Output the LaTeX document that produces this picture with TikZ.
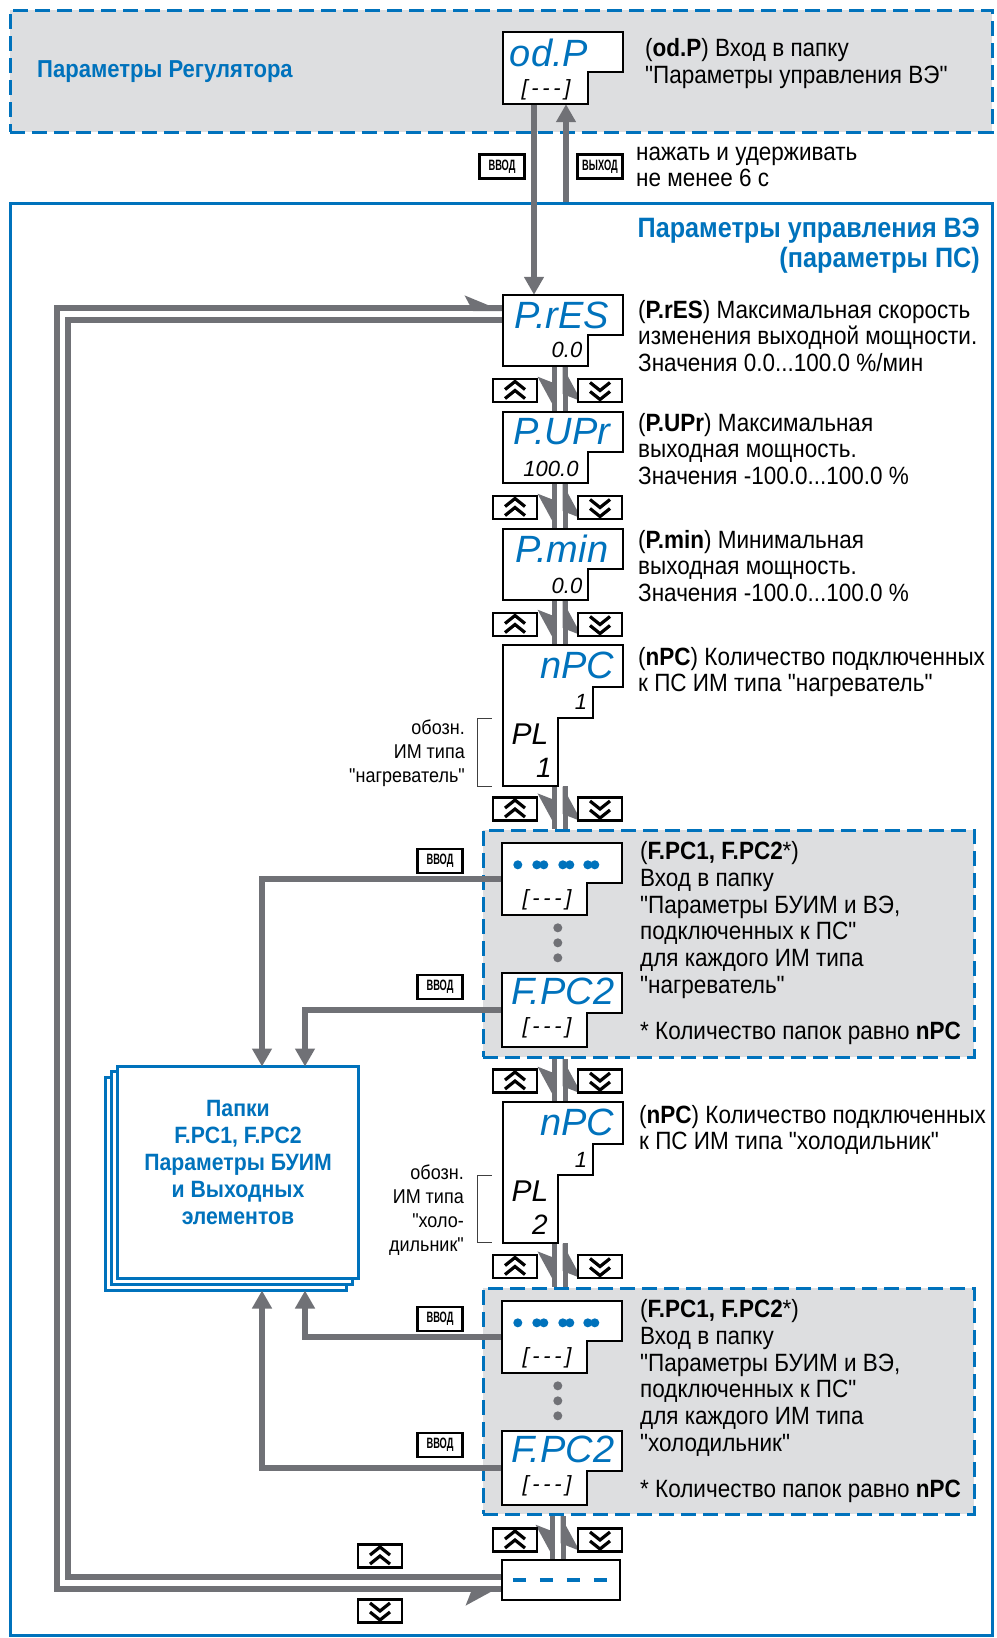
\documentclass[tikz,border=0pt]{standalone}
\usepackage{fontspec}
\setmainfont{Liberation Sans}[FakeStretch=0.9, Ligatures=TeXOff]
\newfontfamily\segfont{Liberation Sans}
\newfontfamily\keyfont{Liberation Sans}[FakeStretch=0.62]
\usetikzlibrary{arrows.meta,positioning,calc}
\definecolor{ovblue}{RGB}{0,114,188}
\definecolor{conngray}{RGB}{112,113,118}
\definecolor{panelgray}{RGB}{221,222,224}

\tikzset{
  txt/.style={font=\fontsize{25}{26.7}\selectfont, align=left, anchor=west, inner sep=0pt},
  ttl/.style={text=ovblue, font=\bfseries\fontsize{24.5}{30}\selectfont, inner sep=0pt},
  lbl/.style={font=\fontsize{20}{24}\selectfont, align=right, anchor=east, inner sep=0pt},
  disp/.style={minimum width=120pt, minimum height=71pt, inner sep=0pt},
  displine/.style={draw=black, line width=2.5pt, fill=white},
  segtxt/.style={text=ovblue, font=\segfont\itshape\fontsize{38}{38}\selectfont, inner sep=0pt},
  subtxt/.style={font=\segfont\itshape\fontsize{22}{22}\selectfont, inner sep=0pt},
  keybox/.style={draw, line width=2.2pt, fill=white, minimum width=44pt, minimum height=23pt, inner sep=0pt},
  upkey/.style={keybox, path picture={
    \draw[line width=3.2pt] (path picture bounding box.center) ++(-10,-1) -- ++(10,-8) -- ++(10,8)
      (path picture bounding box.center) ++(-10,8) -- ++(10,-8) -- ++(10,8);}},
  dnkey/.style={keybox, path picture={
    \draw[line width=3.2pt] (path picture bounding box.center) ++(-10,-8) -- ++(10,8) -- ++(10,-8)
      (path picture bounding box.center) ++(-10,1) -- ++(10,8) -- ++(10,-8);}},
  entkey/.style={keybox, minimum width=45pt, minimum height=24pt, font=\keyfont\bfseries\fontsize{15}{15}\selectfont},
  panel/.style={draw=ovblue, fill=panelgray, line width=3pt, dash pattern=on 15pt off 7pt},
  fold/.style={draw=ovblue, fill=white, line width=3pt},
  gline/.style={draw=conngray, line width=6pt},
  harpR/.tip={Stealth[right, length=30pt, width=32pt, inset=6pt]},
  harpL/.tip={Stealth[left, length=30pt, width=24pt, inset=6pt]},
  pdn/.style={draw=conngray, line width=5pt, postaction={draw=conngray, -{harpR}}},
  tri/.tip={Triangle[length=18pt, width=19pt]}
}

% display frame with a notch at the lower right
\newcommand{\dispbox}[1]{\draw[displine] (#1.north west) -- (#1.north east) -- ++(0,40) -| ([xshift=85pt]#1.south west) -- (#1.south west) -- cycle;}
% display frame of the nPC screens (two steps)
\newcommand{\npcbox}[1]{\draw[displine] (#1.north west) -- (#1.north east) -- ++(0,42) -- ++(-30,0) -- ++(0,31) -- ++(-35,0) |- (#1.south west) -- cycle;}

\begin{document}
\begin{tikzpicture}[x=1pt, y=-1pt]
\useasboundingbox (0,0) rectangle (996,1638);
% Frames
\node[panel, minimum width=982pt, minimum height=122pt] (regbox) at (501,71) {};
\node[draw=ovblue, line width=3pt, minimum width=982pt, minimum height=1432pt] (frame) at (501,919) {};
\node[panel, minimum width=491pt, minimum height=227pt] (box1) at (728.5,943.5) {};
\node[panel, minimum width=491pt, minimum height=226pt] (box2) at (728.5,1401) {};
% Folder stack
\node[fold, minimum width=238pt, minimum height=209pt] (folders) at (238,1172.5) {};
\draw[fold] ($(folders.north west)+(-12,11)$) rectangle ($(folders.south east)+(-12,12)$);
\draw[fold] ($(folders.north west)+(-6,5)$) rectangle ($(folders.south east)+(-6,6)$);
\draw[fold] (folders.north west) rectangle (folders.south east);
\node[ttl, font=\bfseries\fontsize{23.6}{27.2}\selectfont, align=center] (foldtx) at (238,1162.5)
  {Папки\\F.PC1, F.PC2\\Параметры БУИМ\\и Выходных\\элементов};
% Display nodes
\node[disp, minimum height=72pt] (odp) at (563,68) {};
\node[disp] (pres) at (563,330.5) {};
\node[disp] (pupr) at (563,447.5) {};
\node[disp] (pmin) at (563,564.5) {};
\node[disp, minimum height=141pt] (npc1) at (563,715.5) {};
\node[disp, minimum height=72pt] (dots1) at (562,879) {};
\node[disp, minimum height=74pt] (fpcA) at (562,1010) {};
\node[disp, minimum height=141pt] (npc2) at (563,1172.5) {};
\node[disp, minimum height=72pt] (dots2) at (562,1337) {};
\node[disp, minimum height=74pt] (fpcB) at (562,1468) {};
\node[disp, minimum width=118pt, minimum height=40pt] (final) at (561,1580) {};
\coordinate (loopo) at (57,900);
\coordinate (loopi) at (68,900);
% Connections
\draw[gline, -{tri}] ([xshift=-29pt]odp.south) -- ([xshift=-29pt]pres.north);
\draw[gline, -{tri}] ([xshift=3pt]odp.south |- frame.north) -- ([xshift=3pt]odp.south);
\draw[pdn] ([xshift=-9pt]pres.south) -- ([xshift=-9pt]pupr.north);
\draw[pdn] ([xshift=2pt]pupr.north) -- ([xshift=2pt]pres.south);
\draw[pdn] ([xshift=-9pt]pupr.south) -- ([xshift=-9pt]pmin.north);
\draw[pdn] ([xshift=2pt]pmin.north) -- ([xshift=2pt]pupr.south);
\draw[pdn] ([xshift=-9pt]pmin.south) -- ([xshift=-9pt]npc1.north);
\draw[pdn] ([xshift=2pt]npc1.north) -- ([xshift=2pt]pmin.south);
\draw[pdn] ([xshift=-9pt]npc1.south) -- ([xshift=-9pt]npc1.south |- box1.north);
\draw[pdn] ([xshift=2pt]npc1.south |- box1.north) -- ([xshift=2pt]npc1.south);
\draw[pdn] ([xshift=-9pt]npc2.north |- box1.south) -- ([xshift=-9pt]npc2.north);
\draw[pdn] ([xshift=2pt]npc2.north) -- ([xshift=2pt]npc2.north |- box1.south);
\draw[pdn] ([xshift=-9pt]npc2.south) -- ([xshift=-9pt]npc2.south |- box2.north);
\draw[pdn] ([xshift=2pt]npc2.south |- box2.north) -- ([xshift=2pt]npc2.south);
\draw[pdn] ([xshift=-9pt]final.north |- box2.south) -- ([xshift=-9pt]final.north);
\draw[pdn] ([xshift=2pt]final.north) -- ([xshift=2pt]final.north |- box2.south);
\draw[gline, postaction={draw=conngray, {harpR}-{harpL}}] ([yshift=-9pt]final.west) -| (loopo) |- ([yshift=22.5pt]pres.west);
\draw[gline] ([yshift=3pt]final.west) -| (loopi) |- ([yshift=10.5pt]pres.west);
\draw[gline, -{tri}] (dots1.west) -| ([xshift=24pt]folders.north);
\draw[gline, -{tri}] (fpcA.west) -| ([xshift=67pt]folders.north);
\draw[gline, -{tri}] (dots2.west) -| ([xshift=67pt,yshift=-12pt]folders.south);
\draw[gline, -{tri}] (fpcB.west) -| ([xshift=24pt,yshift=-12pt]folders.south);
% Display frames
\dispbox{odp}
\dispbox{pres}
\dispbox{pupr}
\dispbox{pmin}
\npcbox{npc1}
\dispbox{dots1}
\dispbox{fpcA}
\npcbox{npc2}
\dispbox{dots2}
\dispbox{fpcB}
\draw[displine] (final.north west) rectangle (final.south east);
% Display contents
\node[segtxt] (odptx) at (549,53) {od.P};
\node[subtxt] (odpsub) at (546,90) {[\,-\,-\,-\,]};
\node[segtxt] (prestx) at (562,315) {P.rES};
\node[subtxt] (pressub) at (567,350) {0.0};
\node[segtxt] (puprtx) at (562,432) {P.UPr};
\node[subtxt] (puprsub) at (551,469) {100.0};
\node[segtxt] (pmintx) at (562,549) {P.min};
\node[subtxt] (pminsub) at (567,586) {0.0};
\node[segtxt] (npcAtx) at (577,665) {nPC};
\node[subtxt] (npcAn) at (581,702) {1};
\node[subtxt, font=\segfont\itshape\fontsize{30}{30}\selectfont] (plA) at (530,734) {PL};
\node[subtxt, font=\segfont\itshape\fontsize{28}{28}\selectfont] (plAn) at (544,768) {1};
\foreach \dx in {16,35,42,61,68,86,93} \fill[ovblue] ($(dots1.north west)+(\dx,22)$) circle (4.5);
\node[subtxt] (dotsAsub) at (547,900) {[\,-\,-\,-\,]};
\foreach \dy in {85,100,115} \fill[conngray] ($(dots1.north west)+(56,\dy)$) circle (4.5);
\node[segtxt] (fpcAtx) at (563,991) {F.PC2};
\node[subtxt] (fpcAsub) at (547,1028) {[\,-\,-\,-\,]};
\node[segtxt] (npcBtx) at (577,1122) {nPC};
\node[subtxt] (npcBn) at (581,1160) {1};
\node[subtxt, font=\segfont\itshape\fontsize{30}{30}\selectfont] (plB) at (530,1191) {PL};
\node[subtxt, font=\segfont\itshape\fontsize{28}{28}\selectfont] (plBn) at (540,1225) {2};
\foreach \dx in {16,35,42,61,68,86,93} \fill[ovblue] ($(dots2.north west)+(\dx,22)$) circle (4.5);
\node[subtxt] (dotsBsub) at (547,1358) {[\,-\,-\,-\,]};
\foreach \dy in {85,100,115} \fill[conngray] ($(dots2.north west)+(56,\dy)$) circle (4.5);
\node[segtxt] (fpcBtx) at (563,1449) {F.PC2};
\node[subtxt] (fpcBsub) at (547,1486) {[\,-\,-\,-\,]};
\draw[ovblue, line width=4pt, dash pattern=on 13pt off 14pt] ($(final.west)+(11,0)$) -- ($(final.east)+(-11,0)$);
% Keys
\node[entkey] (entA) at (502,166.5) {ВВОД};
\node[entkey] (exitA) at (600,166.5) {ВЫХОД};
\node[upkey] (upA) at (515,390.5) {};
\node[dnkey] (dnA) at (600,390.5) {};
\node[upkey] (upB) at (515,507.5) {};
\node[dnkey] (dnB) at (600,507.5) {};
\node[upkey] (upC) at (515,624.5) {};
\node[dnkey] (dnC) at (600,624.5) {};
\node[upkey] (upD) at (515,809) {};
\node[dnkey] (dnD) at (600,809) {};
\node[upkey] (upE) at (515,1081) {};
\node[dnkey] (dnE) at (600,1081) {};
\node[upkey] (upF) at (515,1266.5) {};
\node[dnkey] (dnF) at (600,1266.5) {};
\node[upkey] (upG) at (515,1540) {};
\node[dnkey] (dnG) at (600,1540) {};
\node[upkey] (upLoop) at (380,1556) {};
\node[dnkey] (dnLoop) at (380,1611) {};
\node[entkey] (entB) at (440,861) {ВВОД};
\node[entkey] (entC) at (440,987) {ВВОД};
\node[entkey] (entD) at (440,1319) {ВВОД};
\node[entkey] (entE) at (440,1445) {ВВОД};
% Brackets
\draw[line width=1pt, black!75] ($(npc1.south west)+(-11,-68)$) -- ++(-14,0) -- ++(0,68) -- ++(14,0);
\draw[line width=1pt, black!75] ($(npc2.south west)+(-11,-68)$) -- ++(-14,0) -- ++(0,67) -- ++(14,0);
% Texts
\node[ttl, anchor=west] (regttl) at (37,72) {Параметры Регулятора};
\node[ttl, font=\bfseries\fontsize{28}{30}\selectfont, align=right, anchor=east] (mainttl) at (980,246) {Параметры управления ВЭ\\(параметры ПС)};
\node[txt] (odptxt) at (645,63.5) {(\textbf{od.P}) Вход в папку\\"Параметры управления ВЭ"};
\node[txt] (holdtxt) at (636,167) {нажать и удерживать\\не менее 6 с};
\node[txt] (prestxt) at (638,336) {(\textbf{P.rES}) Максимальная скорость\\изменения выходной мощности.\\Значения 0.0...100.0 \%/мин};
\node[txt] (puprtxt) at (638,449) {(\textbf{P.UPr}) Максимальная\\выходная мощность.\\Значения -100.0...100.0 \%};
\node[txt] (pmintxt) at (638,566) {(\textbf{P.min}) Минимальная\\выходная мощность.\\Значения -100.0...100.0 \%};
\node[txt] (npcAtxt) at (638,672) {(\textbf{nPC}) Количество подключенных\\к ПС ИМ типа "нагреватель"};
\node[txt] (boxAtxt) at (640,920) {(\textbf{F.PC1, F.PC2}*)\\Вход в папку\\"Параметры БУИМ и ВЭ,\\подключенных к ПС"\\для каждого ИМ типа\\"нагреватель"};
\node[txt] (boxAnote) at (640,1033) {* Количество папок равно \textbf{nPC}};
\node[txt] (npcBtxt) at (639,1130) {(\textbf{nPC}) Количество подключенных\\к ПС ИМ типа "холодильник"};
\node[txt] (boxBtxt) at (640,1378) {(\textbf{F.PC1, F.PC2}*)\\Вход в папку\\"Параметры БУИМ и ВЭ,\\подключенных к ПС"\\для каждого ИМ типа\\"холодильник"};
\node[txt] (boxBnote) at (640,1491) {* Количество папок равно \textbf{nPC}};
\node[lbl] (lblA) at (465,753) {обозн.\\ИМ типа\\"нагреватель"};
\node[lbl] (lblB) at (464,1210) {обозн.\\ИМ типа\\"холо-\\дильник"};
\end{tikzpicture}
\end{document}
